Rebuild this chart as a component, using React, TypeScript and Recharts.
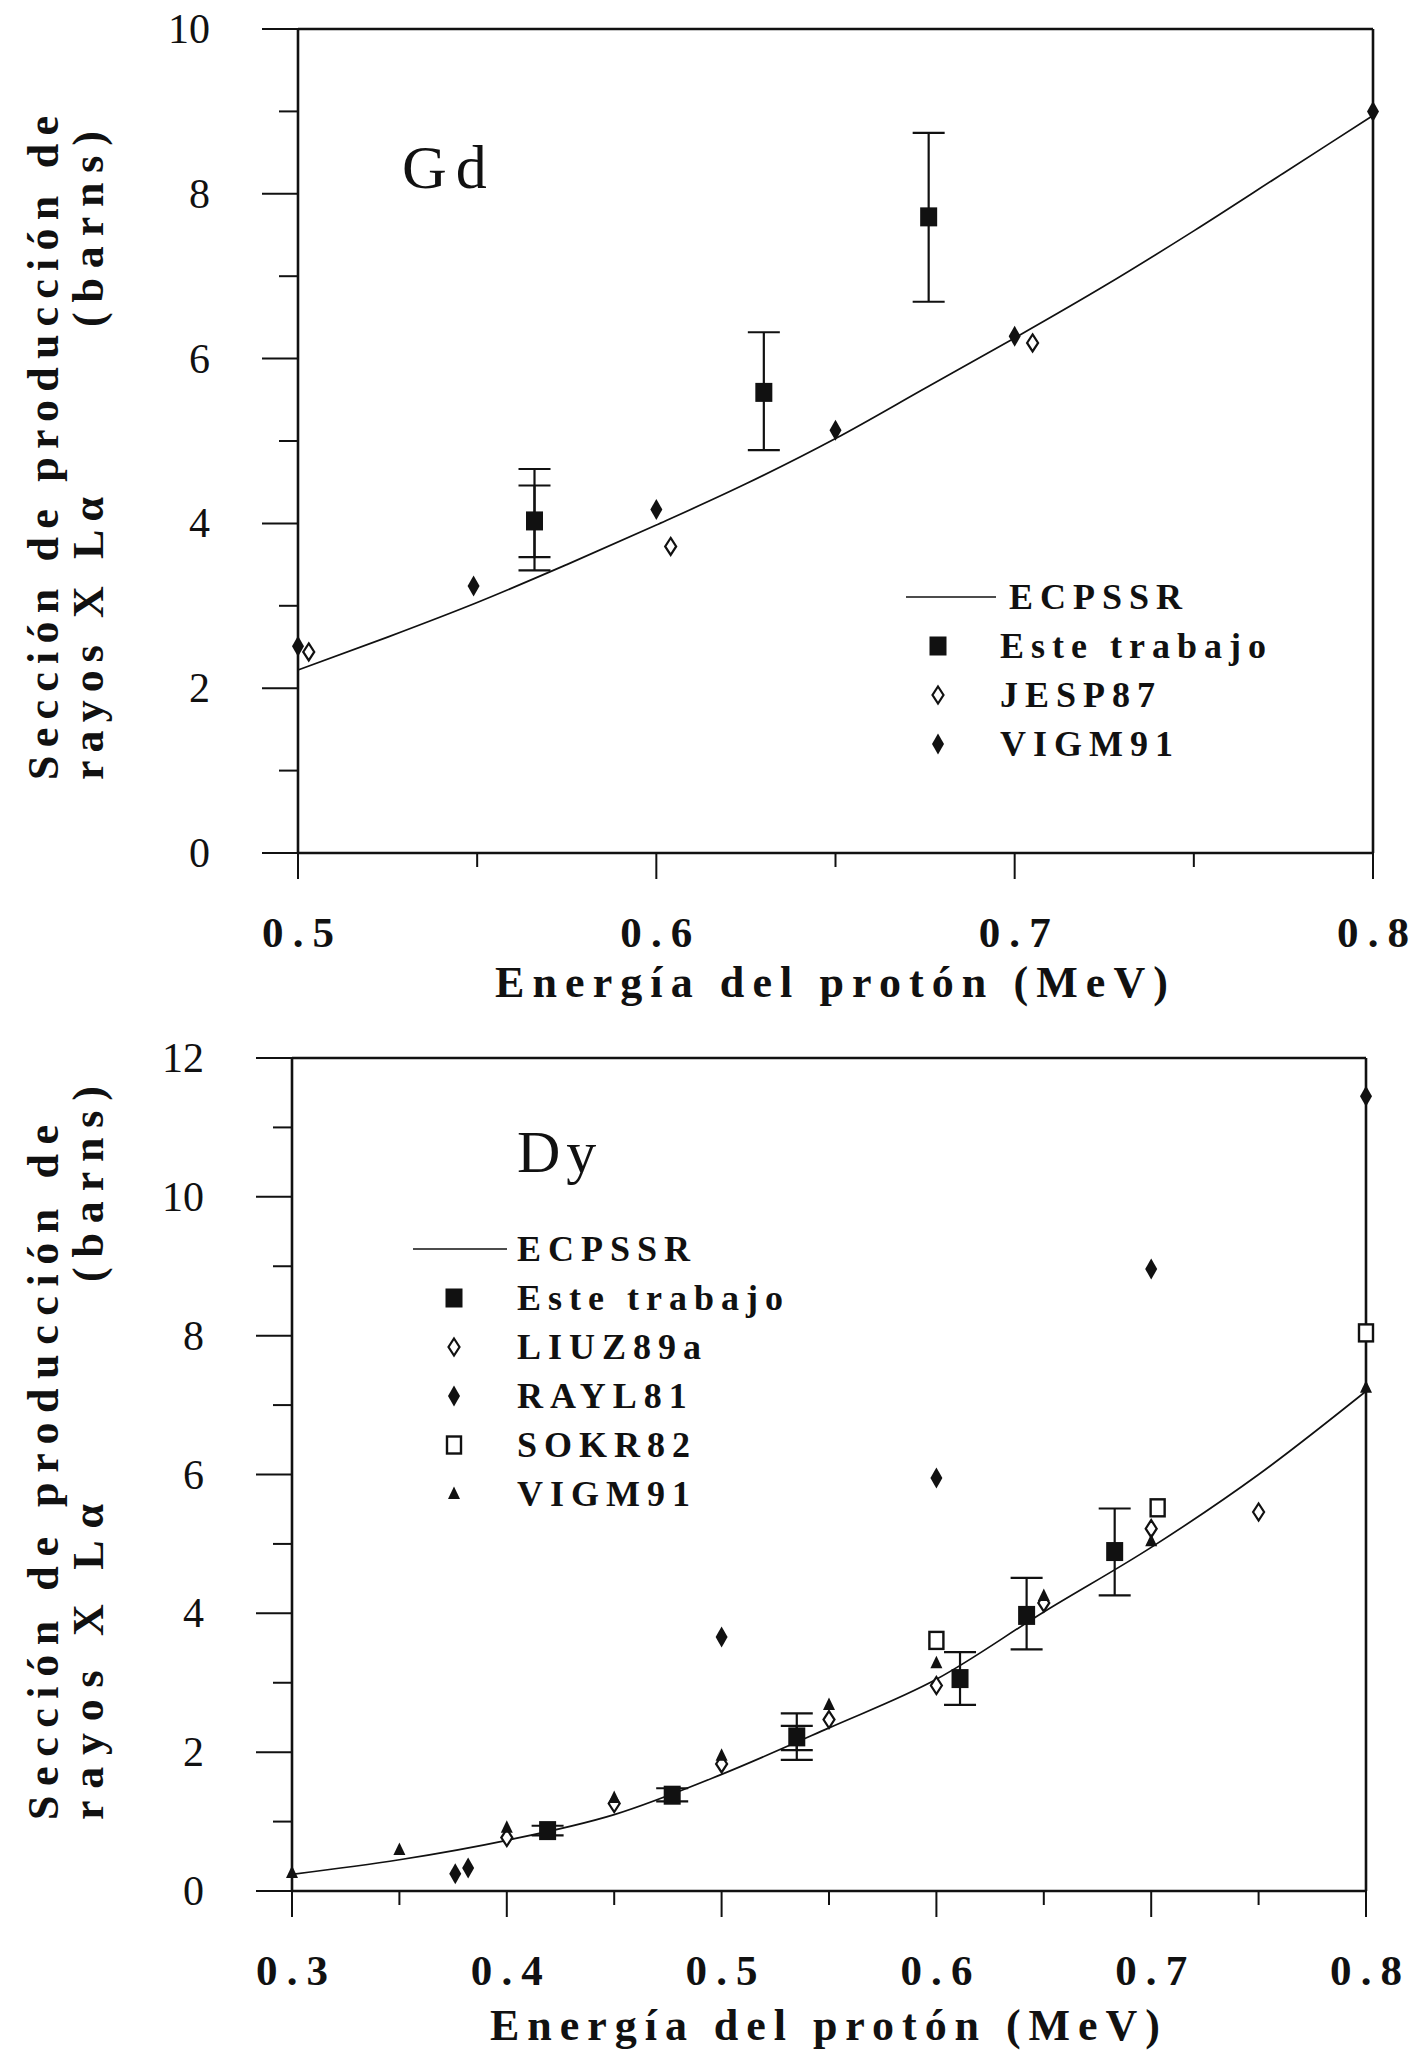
import React from 'react';
import { ComposedChart, Line, Scatter, XAxis, YAxis, ErrorBar, ReferenceLine } from 'recharts';

// ---- Gd panel ----
const gdCurveE = [0.5, 0.525, 0.55, 0.575, 0.6, 0.625, 0.65, 0.675, 0.7, 0.725, 0.75, 0.775, 0.8];
const gdCurveS = [2.22, 2.62, 3.04, 3.5, 3.98, 4.48, 5.03, 5.64, 6.25, 6.88, 7.55, 8.25, 8.95];

const gdOwnE = [0.566, 0.63, 0.676];
const gdOwnS = [4.03, 5.59, 7.72];
const gdOwnLo = [3.43, 4.89, 6.69];
const gdOwnHi = [4.66, 6.32, 8.74];
const gdOwnInnerE = [0.566];
const gdOwnInnerS = [4.03];
const gdOwnInnerLo = [3.59];
const gdOwnInnerHi = [4.46];

const gdJespE = [0.503, 0.604, 0.705];
const gdJespS = [2.44, 3.72, 6.19];

const gdVigmE = [0.5, 0.549, 0.6, 0.65, 0.7, 0.8];
const gdVigmS = [2.51, 3.24, 4.17, 5.13, 6.27, 9.0];

const gdYTicks = [0, 1, 2, 3, 4, 5, 6, 7, 8, 9, 10];
const gdYLabels = [0, 2, 4, 6, 8, 10];
const gdXTicks = [0.5, 0.55, 0.6, 0.65, 0.7, 0.75, 0.8];
const gdXLabels = [0.5, 0.6, 0.7, 0.8];

// ---- Dy panel ----
const dyCurveE = [0.3, 0.35, 0.4, 0.45, 0.5, 0.55, 0.6, 0.65, 0.7, 0.75, 0.8];
const dyCurveS = [0.24, 0.45, 0.73, 1.1, 1.68, 2.35, 3.05, 4.02, 4.95, 6.0, 7.2];

const dyOwnE = [0.419, 0.477, 0.535, 0.611, 0.642, 0.683];
const dyOwnS = [0.87, 1.38, 2.22, 3.06, 3.97, 4.89];
const dyOwnLo = [0.8, 1.29, 1.89, 2.68, 3.48, 4.26];
const dyOwnHi = [0.94, 1.48, 2.56, 3.44, 4.51, 5.51];
const dyOwnInnerE = [0.535];
const dyOwnInnerS = [2.22];
const dyOwnInnerLo = [2.03];
const dyOwnInnerHi = [2.38];

const dyLiuzE = [0.4, 0.45, 0.5, 0.55, 0.6, 0.65, 0.7, 0.75];
const dyLiuzS = [0.77, 1.26, 1.83, 2.47, 2.96, 4.15, 5.22, 5.46];

const dyRaylE = [0.376, 0.382, 0.5, 0.6, 0.7, 0.8];
const dyRaylS = [0.25, 0.33, 3.66, 5.95, 8.96, 11.45];

const dySokrE = [0.6, 0.703, 0.8];
const dySokrS = [3.61, 5.52, 8.04];

const dyVigmE = [0.3, 0.35, 0.4, 0.45, 0.5, 0.55, 0.6, 0.65, 0.7, 0.8];
const dyVigmS = [0.26, 0.59, 0.91, 1.34, 1.95, 2.68, 3.28, 4.25, 5.04, 7.25];

const dyYTicks = [0, 1, 2, 3, 4, 5, 6, 7, 8, 9, 10, 11, 12];
const dyYLabels = [0, 2, 4, 6, 8, 10, 12];
const dyXTicks = [0.3, 0.35, 0.4, 0.45, 0.5, 0.55, 0.6, 0.65, 0.7, 0.75, 0.8];
const dyXLabels = [0.3, 0.4, 0.5, 0.6, 0.7, 0.8];

const SERIF = "'Liberation Serif', 'DejaVu Serif', serif";
const INK = '#111';

const pts = (xs: number[], ys: number[]) => xs.map((x, i) => ({ x, y: ys[i] }));
const errPts = (xs: number[], ys: number[], lo: number[], hi: number[]) =>
  xs.map((x, i) => ({ x, y: ys[i], err: [ys[i] - lo[i], hi[i] - ys[i]] }));

// marker glyphs
type MarkerKind = 'own' | 'openDiamond' | 'filledDiamond' | 'openSquare' | 'triangle';
function marker(kind: MarkerKind, cx: number, cy: number) {
  switch (kind) {
    case 'own':
      return <rect x={cx - 8.5} y={cy - 9.5} width={17} height={19} fill={INK} />;
    case 'openDiamond':
      return (
        <polygon
          points={`${cx},${cy - 8.5} ${cx + 5.5},${cy} ${cx},${cy + 8.5} ${cx - 5.5},${cy}`}
          fill="#fff"
          stroke={INK}
          strokeWidth={2.2}
        />
      );
    case 'filledDiamond':
      return <polygon points={`${cx},${cy - 10.5} ${cx + 6},${cy} ${cx},${cy + 10.5} ${cx - 6},${cy}`} fill={INK} />;
    case 'openSquare':
      return <rect x={cx - 7} y={cy - 8.5} width={14} height={17} fill="#fff" stroke={INK} strokeWidth={2.4} />;
    case 'triangle':
      return <polygon points={`${cx},${cy - 7.5} ${cx + 6},${cy + 5} ${cx - 6},${cy + 5}`} fill={INK} />;
  }
}
const shapeOf = (kind: MarkerKind) => (p: any) => marker(kind, p.cx, p.cy);
const noShape = () => <g />;

function makeYTick(labels: number[]) {
  return (p: any) => {
    const v = p.payload.value;
    const major = labels.includes(v);
    return (
      <g>
        <line x1={p.x - (major ? 36 : 19)} x2={p.x} y1={p.y} y2={p.y} stroke={INK} strokeWidth={2} />
        {major && (
          <text x={p.x - 88} y={p.y + 14} textAnchor="end" fontFamily={SERIF} fontSize={42} fill={INK}>
            {v}
          </text>
        )}
      </g>
    );
  };
}

function makeXTick(labels: number[], labelDy: number) {
  return (p: any) => {
    const v = p.payload.value;
    const major = labels.includes(v);
    return (
      <g>
        <line x1={p.x} x2={p.x} y1={p.y} y2={p.y + (major ? 26 : 14)} stroke={INK} strokeWidth={2} />
        {major && (
          <text
            x={p.x}
            y={p.y + labelDy}
            textAnchor="middle"
            fontFamily={SERIF}
            fontSize={43}
            fontWeight="bold"
            fill={INK}
            textLength={72}
            lengthAdjust="spacing"
          >
            {String(v)}
          </text>
        )}
      </g>
    );
  };
}

type Series = { kind: MarkerKind; data: { x: number; y: number }[] };

function Panel(props: {
  width: number;
  height: number;
  margin: { top: number; right: number; bottom: number; left: number };
  xDomain: [number, number];
  yDomain: [number, number];
  xTicks: number[];
  xLabels: number[];
  yTicks: number[];
  yLabels: number[];
  curve: { x: number; y: number }[];
  own: { x: number; y: number; err: number[] }[];
  ownInner: { x: number; y: number; err: number[] }[];
  others: Series[];
}) {
  return (
    <ComposedChart width={props.width} height={props.height} margin={props.margin}>
      <XAxis
        type="number"
        dataKey="x"
        domain={props.xDomain}
        ticks={props.xTicks}
        interval={0}
        tickSize={0}
        tickMargin={0}
        tickLine={false}
        height={100}
        axisLine={{ stroke: INK, strokeWidth: 2.4 }}
        tick={makeXTick(props.xLabels, 94)}
      />
      <YAxis
        type="number"
        dataKey="y"
        domain={props.yDomain}
        ticks={props.yTicks}
        interval={0}
        tickSize={0}
        tickMargin={0}
        tickLine={false}
        width={100}
        axisLine={{ stroke: INK, strokeWidth: 2.6 }}
        tick={makeYTick(props.yLabels)}
      />
      <ReferenceLine y={props.yDomain[1]} stroke={INK} strokeWidth={2.4} />
      <ReferenceLine x={props.xDomain[1]} stroke={INK} strokeWidth={2.6} />
      <Line
        data={props.curve}
        dataKey="y"
        type="monotone"
        stroke={INK}
        strokeWidth={1.7}
        dot={false}
        activeDot={false}
        isAnimationActive={false}
      />
      <Scatter data={props.ownInner} dataKey="y" shape={noShape} isAnimationActive={false}>
        <ErrorBar dataKey="err" direction="y" width={16} stroke={INK} strokeWidth={2.2} isAnimationActive={false} />
      </Scatter>
      <Scatter data={props.own} dataKey="y" shape={shapeOf('own')} isAnimationActive={false}>
        <ErrorBar dataKey="err" direction="y" width={16} stroke={INK} strokeWidth={2.2} isAnimationActive={false} />
      </Scatter>
      {props.others.map((s, i) => (
        <Scatter key={i} data={s.data} dataKey="y" shape={shapeOf(s.kind)} isAnimationActive={false} />
      ))}
    </ComposedChart>
  );
}

const gdLegend: { label: string; kind: MarkerKind | 'line' }[] = [
  { label: 'ECPSSR', kind: 'line' },
  { label: 'Este trabajo', kind: 'own' },
  { label: 'JESP87', kind: 'openDiamond' },
  { label: 'VIGM91', kind: 'filledDiamond' },
];
const dyLegend: { label: string; kind: MarkerKind | 'line' }[] = [
  { label: 'ECPSSR', kind: 'line' },
  { label: 'Este trabajo', kind: 'own' },
  { label: 'LIUZ89a', kind: 'openDiamond' },
  { label: 'RAYL81', kind: 'filledDiamond' },
  { label: 'SOKR82', kind: 'openSquare' },
  { label: 'VIGM91', kind: 'triangle' },
];

function LegendBlock(props: {
  items: { label: string; kind: MarkerKind | 'line' }[];
  symX: number;
  lineX1: number;
  lineX2: number;
  textX: number;
  lineTextShift: number;
  firstY: number;
  step: number;
}) {
  return (
    <g>
      {props.items.map((it, i) => {
        const cy = props.firstY + i * props.step;
        return (
          <g key={it.label}>
            {it.kind === 'line' ? (
              <line x1={props.lineX1} x2={props.lineX2} y1={cy} y2={cy} stroke={INK} strokeWidth={1.7} />
            ) : (
              marker(it.kind, props.symX, cy)
            )}
            <text
              x={it.kind === 'line' ? props.textX + props.lineTextShift : props.textX}
              y={cy + 12}
              fontFamily={SERIF}
              fontSize={36}
              fontWeight="bold"
              letterSpacing={7}
              fill={INK}
            >
              {it.label}
            </text>
          </g>
        );
      })}
    </g>
  );
}

function YTitle(props: { bottom: number; top1: number; top2: number; top3: number; len3: number }) {
  const common = { fontFamily: SERIF, fontSize: 44, fontWeight: 'bold' as const, fill: INK };
  return (
    <g>
      <text
        x={58}
        y={props.bottom}
        transform={`rotate(-90 58 ${props.bottom})`}
        textLength={props.bottom - props.top1}
        lengthAdjust="spacing"
        {...common}
      >
        Sección de producción de
      </text>
      <text
        x={103}
        y={props.bottom}
        transform={`rotate(-90 103 ${props.bottom})`}
        textLength={props.bottom - props.top2}
        lengthAdjust="spacing"
        {...common}
      >
        rayos X Lα
      </text>
      <text
        x={103}
        y={props.top3 + props.len3}
        transform={`rotate(-90 103 ${props.top3 + props.len3})`}
        textLength={props.len3}
        lengthAdjust="spacing"
        {...common}
        fontWeight={600}
      >
        (barns)
      </text>
    </g>
  );
}

function XTitle(props: { x1: number; x2: number; y: number }) {
  return (
    <text
      x={props.x1}
      y={props.y}
      textLength={props.x2 - props.x1}
      lengthAdjust="spacing"
      fontFamily={SERIF}
      fontSize={44}
      fontWeight="bold"
      fill={INK}
    >
      Energía del protón (MeV)
    </text>
  );
}

export default function App() {
  const gdOthers: Series[] = [
    { kind: 'openDiamond', data: pts(gdJespE, gdJespS) },
    { kind: 'filledDiamond', data: pts(gdVigmE, gdVigmS) },
  ];
  const dyOthers: Series[] = [
    { kind: 'openDiamond', data: pts(dyLiuzE, dyLiuzS) },
    { kind: 'filledDiamond', data: pts(dyRaylE, dyRaylS) },
    { kind: 'openSquare', data: pts(dySokrE, dySokrS) },
    { kind: 'triangle', data: pts(dyVigmE, dyVigmS) },
  ];

  return (
    <div style={{ position: 'absolute', left: 0, top: 0, width: 1411, height: 2051, background: '#fff' }}>
      <div style={{ position: 'absolute', left: 0, top: 0 }}>
        <Panel
          width={1411}
          height={1000}
          margin={{ top: 29, right: 38, bottom: 47, left: 198 }}
          xDomain={[0.5, 0.8]}
          yDomain={[0, 10]}
          xTicks={gdXTicks}
          xLabels={gdXLabels}
          yTicks={gdYTicks}
          yLabels={gdYLabels}
          curve={pts(gdCurveE, gdCurveS)}
          own={errPts(gdOwnE, gdOwnS, gdOwnLo, gdOwnHi)}
          ownInner={errPts(gdOwnInnerE, gdOwnInnerS, gdOwnInnerLo, gdOwnInnerHi)}
          others={gdOthers}
        />
      </div>
      <div style={{ position: 'absolute', left: 0, top: 1000 }}>
        <Panel
          width={1411}
          height={1051}
          margin={{ top: 58, right: 45, bottom: 60, left: 192 }}
          xDomain={[0.3, 0.8]}
          yDomain={[0, 12]}
          xTicks={dyXTicks}
          xLabels={dyXLabels}
          yTicks={dyYTicks}
          yLabels={dyYLabels}
          curve={pts(dyCurveE, dyCurveS)}
          own={errPts(dyOwnE, dyOwnS, dyOwnLo, dyOwnHi)}
          ownInner={errPts(dyOwnInnerE, dyOwnInnerS, dyOwnInnerLo, dyOwnInnerHi)}
          others={dyOthers}
        />
      </div>
      <svg
        width={1411}
        height={2051}
        style={{ position: 'absolute', left: 0, top: 0, pointerEvents: 'none' }}
      >
        <text x={402} y={188} fontFamily={SERIF} fontSize={62} letterSpacing={9} fill={INK}>
          Gd
        </text>
        <text x={517} y={1172} fontFamily={SERIF} fontSize={60} letterSpacing={6} fill={INK}>
          Dy
        </text>
        <LegendBlock
          items={gdLegend}
          symX={938}
          lineX1={906}
          lineX2={996}
          textX={1000}
          lineTextShift={9}
          firstY={597}
          step={49}
        />
        <LegendBlock
          items={dyLegend}
          symX={454}
          lineX1={413}
          lineX2={507}
          textX={517}
          lineTextShift={0}
          firstY={1249}
          step={49}
        />
        <YTitle bottom={780} top1={116} top2={497} top3={131} len3={196} />
        <YTitle bottom={1820} top1={1125} top2={1504} top3={1086} len3={196} />
        <XTitle x1={495} x2={1168} y={997} />
        <XTitle x1={490} x2={1160} y={2040} />
      </svg>
    </div>
  );
}
